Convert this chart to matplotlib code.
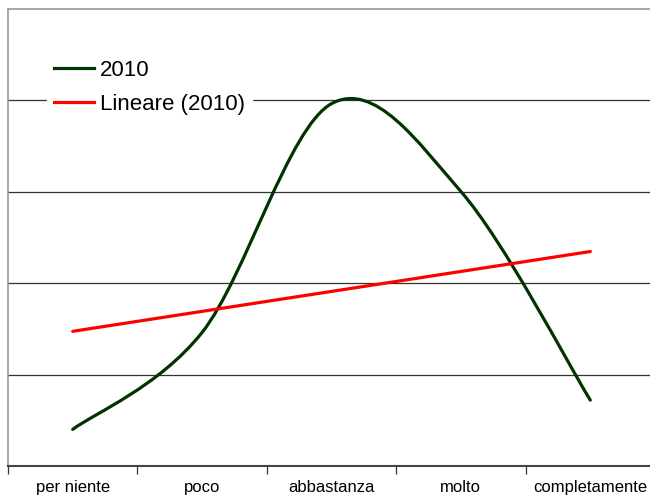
import matplotlib.pyplot as plt
import numpy as np
from matplotlib.path import Path
from matplotlib.patches import PathPatch
from matplotlib.lines import Line2D

plt.rcParams['font.family'] = ['Liberation Sans', 'DejaVu Sans']

categories = ["per niente", "poco", "abbastanza", "molto", "completamente"]
values_2010 = [4.0, 14.6, 39.6, 30.0, 7.2]
series_label = "2010"
trend_label = "Lineare (2010)"

green = "#003300"
red = "#ff0000"

fig = plt.figure(figsize=(6.5, 4.97), dpi=100)
ax = fig.add_axes([8 / 650, 31 / 497, 647 / 650, 457.5 / 497])

x = np.arange(1, len(categories) + 1)
y = np.array(values_2010)

# smoothed line like Excel (cubic bezier, catmull-rom style control points)
px = np.concatenate([[x[0]], x, [x[-1]]])
py = np.concatenate([[y[0]], y, [y[-1]]])
verts = [(x[0], y[0])]
codes = [Path.MOVETO]
for i in range(1, len(px) - 2):
    c1 = (px[i] + (px[i + 1] - px[i - 1]) / 6, py[i] + (py[i + 1] - py[i - 1]) / 6)
    c2 = (px[i + 1] - (px[i + 2] - px[i]) / 6, py[i + 1] - (py[i + 2] - py[i]) / 6)
    verts += [c1, c2, (px[i + 1], py[i + 1])]
    codes += [Path.CURVE4, Path.CURVE4, Path.CURVE4]
ax.add_patch(PathPatch(Path(verts, codes), facecolor="none", edgecolor=green,
                       lw=2.3, capstyle="round", zorder=3))

# linear trend
k, b = np.polyfit(x, y, 1)
ax.plot(x, k * x + b, color=red, lw=2.3, solid_capstyle="round", zorder=3)

ax.set_xlim(0.5, 5.5)
ax.set_ylim(0, 50)
ax.set_yticks([10, 20, 30, 40])
ax.yaxis.grid(True, color="#333333", lw=0.9)
ax.tick_params(axis="y", length=0, labelleft=False)
ax.set_xticks(x)
ax.set_xticklabels(categories, fontsize=12)
ax.set_xticks(np.arange(0.5, 6, 1), minor=True)
ax.tick_params(axis="x", which="major", length=0, pad=10)
ax.tick_params(axis="x", which="minor", length=6, color="#333333", width=0.9)
for s in ["top", "left", "right"]:
    ax.spines[s].set_color("#999999")
    ax.spines[s].set_linewidth(1.2)
ax.spines["bottom"].set_color("#444444")
ax.spines["bottom"].set_linewidth(1.5)

handles = [Line2D([], [], color=green, lw=2.3), Line2D([], [], color=red, lw=2.3)]
leg = ax.legend(handles, [series_label, trend_label], loc="upper left",
                bbox_to_anchor=(47 / 650, 1 - 53 / 497), bbox_transform=fig.transFigure,
                fontsize=16, frameon=True, fancybox=False, framealpha=1,
                edgecolor="white", handlelength=1.8, handletextpad=0.3,
                labelspacing=0.58, borderpad=0.3, borderaxespad=0)
leg.set_zorder(5)

fig.savefig("out.png", dpi=100)
